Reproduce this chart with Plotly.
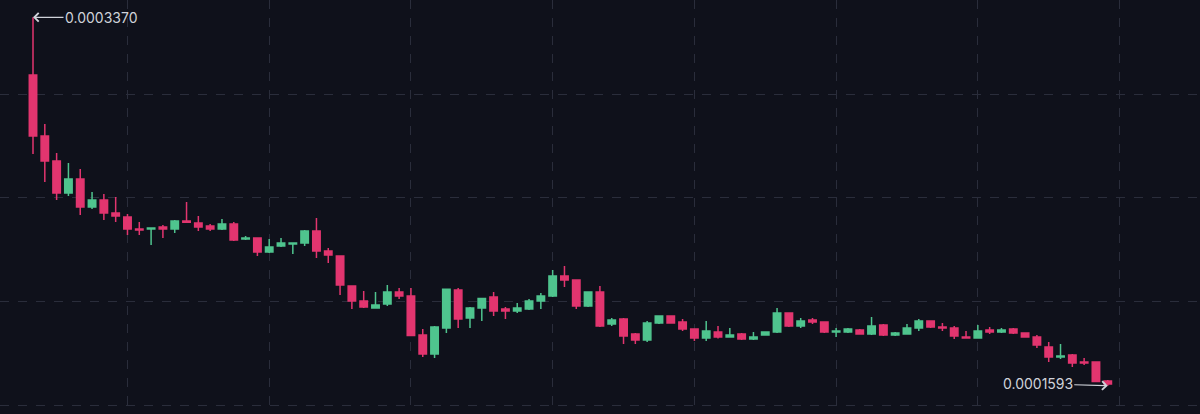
import pandas as pd
import plotly.graph_objects as go

start_time = "2024-01-01 09:20"
interval_minutes = 5

open_ = [0.0003092, 0.0002797, 0.0002677, 0.0002522, 0.0002590, 0.0002455, 0.0002489, 0.0002426,
         0.0002407, 0.0002349, 0.0002349, 0.0002358, 0.0002349, 0.0002387, 0.0002378, 0.0002363,
         0.0002349, 0.0002373, 0.0002301, 0.0002305, 0.0002238, 0.0002267, 0.0002277, 0.0002281,
         0.0002339, 0.0002243, 0.0002219, 0.0002074, 0.0002002, 0.0001968, 0.0001987, 0.0002045,
         0.0002026, 0.0001838, 0.0001746, 0.0001871, 0.0002055, 0.0001920, 0.0001968, 0.0002021,
         0.0001963, 0.0001953, 0.0001963, 0.0002002, 0.0002026, 0.0002122, 0.0002103, 0.0001977,
         0.0002045, 0.0001891, 0.0001915, 0.0001842, 0.0001813, 0.0001895, 0.0001929, 0.0001900,
         0.0001867, 0.0001823, 0.0001852, 0.0001828, 0.0001842, 0.0001818, 0.0001838, 0.0001852,
         0.0001944, 0.0001881, 0.0001910, 0.0001900, 0.0001852, 0.0001852, 0.0001862, 0.0001842,
         0.0001886, 0.0001838, 0.0001842, 0.0001871, 0.0001905, 0.0001876, 0.0001871, 0.0001828,
         0.0001823, 0.0001862, 0.0001852, 0.0001867, 0.0001847, 0.0001828, 0.0001780, 0.0001732,
         0.0001741, 0.0001707, 0.0001707, 0.0001616]
high = [0.0003370, 0.0002855, 0.0002715, 0.0002667, 0.0002638, 0.0002527, 0.0002518, 0.0002503,
        0.0002421, 0.0002383, 0.0002356, 0.0002368, 0.0002392, 0.0002479, 0.0002412, 0.0002373,
        0.0002397, 0.0002383, 0.0002315, 0.0002307, 0.0002301, 0.0002305, 0.0002282, 0.0002344,
        0.0002402, 0.0002257, 0.0002221, 0.0002076, 0.0002050, 0.0002045, 0.0002079, 0.0002064,
        0.0002064, 0.0001867, 0.0001881, 0.0002060, 0.0002064, 0.0001973, 0.0002016, 0.0002045,
        0.0001973, 0.0001992, 0.0002011, 0.0002040, 0.0002151, 0.0002170, 0.0002105, 0.0002047,
        0.0002074, 0.0001920, 0.0001920, 0.0001847, 0.0001905, 0.0001931, 0.0001931, 0.0001915,
        0.0001869, 0.0001905, 0.0001881, 0.0001871, 0.0001847, 0.0001852, 0.0001854, 0.0001968,
        0.0001946, 0.0001920, 0.0001920, 0.0001902, 0.0001871, 0.0001871, 0.0001867, 0.0001924,
        0.0001891, 0.0001852, 0.0001891, 0.0001915, 0.0001907, 0.0001895, 0.0001881, 0.0001857,
        0.0001886, 0.0001876, 0.0001871, 0.0001871, 0.0001849, 0.0001838, 0.0001804, 0.0001794,
        0.0001746, 0.0001727, 0.0001709, 0.0001621]
low = [0.0002711, 0.0002576, 0.0002489, 0.0002508, 0.0002416, 0.0002445, 0.0002392, 0.0002383,
       0.0002320, 0.0002320, 0.0002272, 0.0002305, 0.0002330, 0.0002380, 0.0002339, 0.0002339,
       0.0002344, 0.0002291, 0.0002296, 0.0002219, 0.0002233, 0.0002262, 0.0002228, 0.0002267,
       0.0002209, 0.0002185, 0.0002031, 0.0001963, 0.0001968, 0.0001966, 0.0001977, 0.0002011,
       0.0001833, 0.0001732, 0.0001727, 0.0001847, 0.0001871, 0.0001871, 0.0001905, 0.0001929,
       0.0001915, 0.0001944, 0.0001958, 0.0001963, 0.0002021, 0.0002069, 0.0001963, 0.0001973,
       0.0001876, 0.0001881, 0.0001794, 0.0001794, 0.0001804, 0.0001891, 0.0001893, 0.0001857,
       0.0001809, 0.0001809, 0.0001821, 0.0001826, 0.0001813, 0.0001813, 0.0001836, 0.0001847,
       0.0001876, 0.0001871, 0.0001891, 0.0001847, 0.0001828, 0.0001847, 0.0001840, 0.0001838,
       0.0001833, 0.0001833, 0.0001840, 0.0001857, 0.0001871, 0.0001857, 0.0001818, 0.0001821,
       0.0001821, 0.0001842, 0.0001847, 0.0001842, 0.0001826, 0.0001775, 0.0001707, 0.0001722,
       0.0001683, 0.0001693, 0.0001611, 0.0001593]
close = [0.0002797, 0.0002677, 0.0002522, 0.0002590, 0.0002455, 0.0002489, 0.0002426, 0.0002412,
         0.0002349, 0.0002344, 0.0002354, 0.0002349, 0.0002387, 0.0002382, 0.0002358, 0.0002349,
         0.0002373, 0.0002296, 0.0002305, 0.0002238, 0.0002262, 0.0002281, 0.0002281, 0.0002339,
         0.0002243, 0.0002223, 0.0002079, 0.0002002, 0.0001973, 0.0001982, 0.0002045, 0.0002026,
         0.0001835, 0.0001746, 0.0001876, 0.0002058, 0.0001915, 0.0001968, 0.0002014, 0.0001953,
         0.0001953, 0.0001968, 0.0002002, 0.0002026, 0.0002122, 0.0002103, 0.0001977, 0.0002045,
         0.0001881, 0.0001910, 0.0001833, 0.0001813, 0.0001895, 0.0001929, 0.0001895, 0.0001867,
         0.0001823, 0.0001857, 0.0001828, 0.0001838, 0.0001818, 0.0001828, 0.0001852, 0.0001944,
         0.0001881, 0.0001905, 0.0001900, 0.0001852, 0.0001857, 0.0001867, 0.0001842, 0.0001881,
         0.0001838, 0.0001847, 0.0001871, 0.0001905, 0.0001876, 0.0001871, 0.0001833, 0.0001823,
         0.0001857, 0.0001852, 0.0001862, 0.0001847, 0.0001828, 0.0001789, 0.0001732, 0.0001736,
         0.0001703, 0.0001703, 0.0001613, 0.0001601]

y_ticks = [0.00015, 0.00020, 0.00025, 0.00030]

n = len(open_)
times = pd.date_range(start_time, periods=n, freq=f"{interval_minutes}min")
step = pd.Timedelta(minutes=interval_minutes)

BG = "#0f111b"
GRID = "#2a2d3b"
UP = "#4fc48e"
DOWN = "#e2356f"
TXT = "#d0d3da"
FONT = "Inter, Open Sans, sans-serif"

fig = go.Figure(go.Candlestick(
    x=times, open=open_, high=high, low=low, close=close,
    increasing=dict(line=dict(color=UP, width=1.5), fillcolor=UP),
    decreasing=dict(line=dict(color=DOWN, width=1.5), fillcolor=DOWN),
    whiskerwidth=0,
    showlegend=False,
))

i_max = max(range(n), key=lambda i: high[i])
i_min = min(range(n), key=lambda i: low[i])

fig.add_annotation(x=times[i_max], y=high[i_max], text=f"{high[i_max]:.7f}",
                   showarrow=True, arrowhead=4, arrowsize=1.4, arrowwidth=1.2,
                   arrowcolor=TXT, ax=68, ay=0, xanchor="center",
                   font=dict(family=FONT, size=14, color=TXT))
fig.add_annotation(x=times[i_min], y=low[i_min], text=f"{low[i_min]:.7f}",
                   showarrow=True, arrowhead=4, arrowsize=1.4, arrowwidth=1.2,
                   arrowcolor=TXT, ax=-70, ay=-2, xanchor="center",
                   font=dict(family=FONT, size=14, color=TXT))

extended = times.append(pd.DatetimeIndex([times[-1] + step * k for k in range(1, 8)]))
hour_ticks = [t for t in extended if t.minute == 0]

fig.update_layout(
    width=1200, height=414,
    margin=dict(l=0, r=0, t=0, b=0),
    paper_bgcolor=BG, plot_bgcolor=BG,
    boxgap=0.1,
    xaxis=dict(
        range=[times[0] - step * 2.794, times[0] + step * 98.81],
        showticklabels=False, rangeslider=dict(visible=False),
        showgrid=True, gridcolor=GRID, griddash="dash", gridwidth=1,
        tickmode="array", tickvals=hour_ticks,
        zeroline=False, showline=False, ticks="",
    ),
    yaxis=dict(
        range=[0.00014566, 0.00034534],
        showticklabels=False,
        showgrid=True, gridcolor=GRID, griddash="dash", gridwidth=1,
        tickmode="array", tickvals=y_ticks,
        zeroline=False, showline=False, ticks="",
    ),
)

fig.write_html("out.html",
               config={"displayModeBar": False},
               post_script="document.body.style.margin='0';document.body.style.background='%s';" % BG)
